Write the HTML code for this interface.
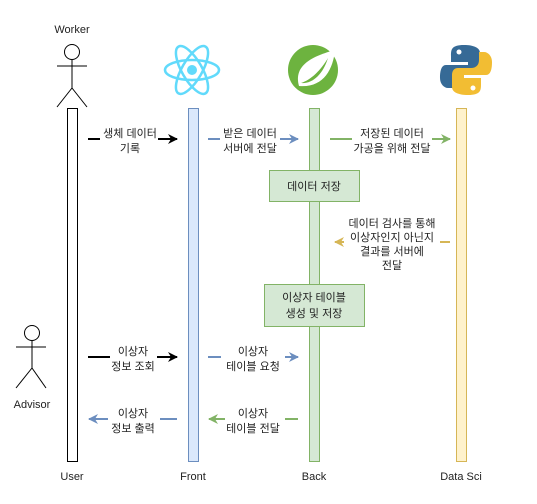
<!DOCTYPE html>
<html><head><meta charset="utf-8"><style>
body{margin:0;background:#fff;}
svg text{font-family:"Liberation Sans","Noto Sans CJK KR",sans-serif;font-size:11px;fill:#222;}
</style></head><body>
<svg width="537" height="499" xmlns="http://www.w3.org/2000/svg">
<defs>
<marker id="ak" markerWidth="10" markerHeight="10" refX="9" refY="5" orient="auto" markerUnits="userSpaceOnUse"><path d="M0,0 L10,5 L0,10 L3,5z" fill="#000"/></marker>
<marker id="ab" markerWidth="10" markerHeight="10" refX="9" refY="5" orient="auto" markerUnits="userSpaceOnUse"><path d="M0,0 L10,5 L0,10 L3,5z" fill="#6c8ebf"/></marker>
<marker id="ag" markerWidth="10" markerHeight="10" refX="9" refY="5" orient="auto" markerUnits="userSpaceOnUse"><path d="M0,0 L10,5 L0,10 L3,5z" fill="#82b366"/></marker>
<marker id="ay" markerWidth="10" markerHeight="10" refX="9" refY="5" orient="auto" markerUnits="userSpaceOnUse"><path d="M0,0 L10,5 L0,10 L3,5z" fill="#d6b656"/></marker>
</defs>
<!-- actors -->
<text x="72" y="33" text-anchor="middle">Worker</text>
<g stroke="#000" fill="none" stroke-width="1">
<circle cx="72" cy="52" r="7.5" fill="#fff"/><line x1="72" y1="60" x2="72" y2="88"/><line x1="57" y1="66" x2="87" y2="66"/><line x1="72" y1="88" x2="57" y2="107"/><line x1="72" y1="88" x2="87" y2="107"/>
<circle cx="32" cy="333" r="7.5" fill="#fff"/><line x1="32" y1="341" x2="32" y2="368"/><line x1="16" y1="347" x2="46" y2="347"/><line x1="32" y1="368" x2="16" y2="388"/><line x1="32" y1="368" x2="46" y2="388"/>
</g>
<text x="32" y="408" text-anchor="middle">Advisor</text>
<!-- icons -->
<g transform="translate(192,70)" fill="none" stroke="#61dafb" stroke-width="2.5">
<ellipse rx="27" ry="10"/><ellipse rx="27" ry="10" transform="rotate(60)"/><ellipse rx="27" ry="10" transform="rotate(120)"/>
<circle r="5" fill="#61dafb" stroke="none"/></g>
<g transform="translate(313,70)"><circle r="25" fill="#6db33f"/>
<path d="M-14,16 C-20,-5 0,-14 22,-20 C20,0 10,18 -14,16z" fill="#fff"/><path d="M-12,13 C-2,10 8,0 15,-12 C10,4 0,14 -12,13z" fill="#6db33f"/></g>
<g transform="translate(466,70)">
<path d="M-2,-25 C-15,-25 -15,-20 -15,-14 L-15,-8 L2,-8 L2,-5 L-20,-5 C-26,-5 -26,5 -26,8 C-26,14 -22,18 -18,18 L-13,18 L-13,10 C-13,5 -10,2 -5,2 L8,2 C12,2 14,-1 14,-5 L14,-17 C14,-22 8,-25 -2,-25z" fill="#366a96"/>
<path d="M2,25 C15,25 15,20 15,14 L15,8 L-2,8 L-2,5 L20,5 C26,5 26,-5 26,-8 C26,-14 22,-18 18,-18 L13,-18 L13,-10 C13,-5 10,-2 5,-2 L-8,-2 C-12,-2 -14,1 -14,5 L-14,17 C-14,22 -8,25 2,25z" fill="#f2bd33"/>
<circle cx="-7" cy="-18" r="2.5" fill="#fff"/><circle cx="7" cy="18" r="2.5" fill="#fff"/></g>
<!-- lifelines -->
<rect x="67.5" y="108.5" width="10" height="353" fill="#fff" stroke="#000"/>
<rect x="188.5" y="108.5" width="10" height="353" fill="#dae8fc" stroke="#6c8ebf"/>
<rect x="309.5" y="108.5" width="10" height="353" fill="#d5e8d4" stroke="#82b366"/>
<rect x="456.5" y="108.5" width="10" height="353" fill="#fff2cc" stroke="#d6b656"/>
<text x="72" y="480" text-anchor="middle">User</text>
<text x="193" y="480" text-anchor="middle">Front</text>
<text x="314" y="480" text-anchor="middle">Back</text>
<text x="461" y="480" text-anchor="middle">Data Sci</text>
<!-- boxes -->
<rect x="269.5" y="170.5" width="90" height="31" fill="#d5e8d4" stroke="#82b366"/>
<text x="314" y="190" text-anchor="middle">데이터 저장</text>
<rect x="264.5" y="284.5" width="100" height="42" fill="#d5e8d4" stroke="#82b366"/>
<text x="314" y="301" text-anchor="middle">이상자 테이블</text>
<text x="314" y="317" text-anchor="middle">생성 및 저장</text>
<!-- arrows row1 -->
<line x1="88" y1="139" x2="100" y2="139" stroke="#000" stroke-width="2"/>
<line x1="158" y1="139" x2="177" y2="139" stroke="#000" stroke-width="2" marker-end="url(#ak)"/>
<text x="130" y="137" text-anchor="middle">생체 데이터</text><text x="130" y="152" text-anchor="middle">기록</text>
<line x1="208" y1="139" x2="220" y2="139" stroke="#6c8ebf" stroke-width="2"/>
<line x1="280" y1="139" x2="298" y2="139" stroke="#6c8ebf" stroke-width="2" marker-end="url(#ab)"/>
<text x="250" y="137" text-anchor="middle">받은 데이터</text><text x="250" y="152" text-anchor="middle">서버에 전달</text>
<line x1="330" y1="139" x2="352" y2="139" stroke="#82b366" stroke-width="2"/>
<line x1="432" y1="139" x2="450" y2="139" stroke="#82b366" stroke-width="2" marker-end="url(#ag)"/>
<text x="392" y="137" text-anchor="middle">저장된 데이터</text><text x="392" y="152" text-anchor="middle">가공을 위해 전달</text>
<!-- yellow -->
<line x1="440" y1="242" x2="450" y2="242" stroke="#d6b656" stroke-width="2"/>
<line x1="344" y1="242" x2="335" y2="242" stroke="#d6b656" stroke-width="2" marker-end="url(#ay)"/>
<text x="392" y="227" text-anchor="middle">데이터 검사를 통해</text>
<text x="392" y="241" text-anchor="middle">이상자인지 아닌지</text>
<text x="392" y="255" text-anchor="middle">결과를 서버에</text>
<text x="392" y="269" text-anchor="middle">전달</text>
<!-- row 357 -->
<line x1="88" y1="357" x2="110" y2="357" stroke="#000" stroke-width="2"/>
<line x1="157" y1="357" x2="177" y2="357" stroke="#000" stroke-width="2" marker-end="url(#ak)"/>
<text x="133" y="355" text-anchor="middle">이상자</text><text x="133" y="370" text-anchor="middle">정보 조회</text>
<line x1="208" y1="357" x2="221" y2="357" stroke="#6c8ebf" stroke-width="2"/>
<line x1="285" y1="357" x2="298" y2="357" stroke="#6c8ebf" stroke-width="2" marker-end="url(#ab)"/>
<text x="253" y="355" text-anchor="middle">이상자</text><text x="253" y="370" text-anchor="middle">테이블 요청</text>
<!-- row 419 -->
<line x1="177" y1="419" x2="160" y2="419" stroke="#6c8ebf" stroke-width="2"/>
<line x1="108" y1="419" x2="89" y2="419" stroke="#6c8ebf" stroke-width="2" marker-end="url(#ab)"/>
<text x="133" y="417" text-anchor="middle">이상자</text><text x="133" y="432" text-anchor="middle">정보 출력</text>
<line x1="298" y1="419" x2="285" y2="419" stroke="#82b366" stroke-width="2"/>
<line x1="225" y1="419" x2="209" y2="419" stroke="#82b366" stroke-width="2" marker-end="url(#ag)"/>
<text x="253" y="417" text-anchor="middle">이상자</text><text x="253" y="432" text-anchor="middle">테이블 전달</text>
</svg>
</body></html>
